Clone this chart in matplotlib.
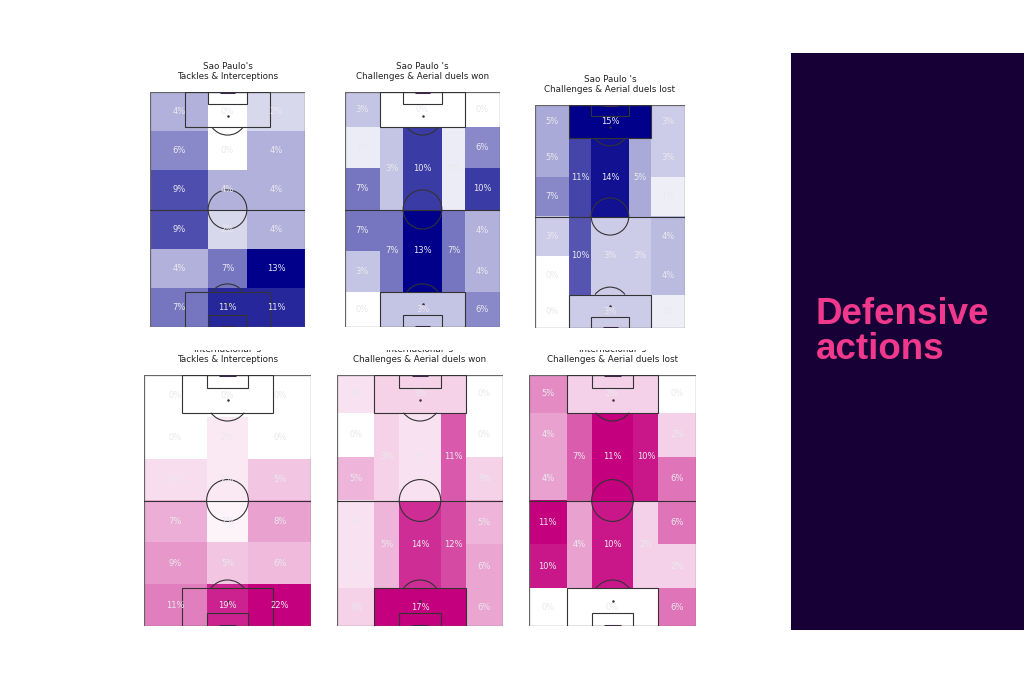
import matplotlib
matplotlib.use("Agg")
import matplotlib.pyplot as plt
from matplotlib.colors import LinearSegmentedColormap, Normalize
from matplotlib.patches import Rectangle, Arc, Circle

# vertical statsbomb pitch: x across 0-80, y along 0-120 (120 = top of picture)
LINE = "#333333"

# share of actions per zone, in percent
# 3 x 6 grid, rows top -> bottom, cols left -> right
sp_tackles = [[4, 0, 2], [6, 0, 4], [9, 4, 4], [9, 2, 4], [4, 7, 13], [7, 11, 11]]
int_tackles = [[0, 0, 0], [0, 2, 0], [3, 2, 5], [7, 1, 8], [9, 5, 6], [11, 19, 22]]

# positional zones, in this order:
# left wing x6 (top->bottom), left half-space (top, bottom), centre (top, bottom),
# right half-space (top, bottom), right wing x6, boxes (top, bottom)
sp_won = [3, 1, 7, 7, 3, 0, 3, 7, 10, 13, 1, 7, 0, 6, 10, 4, 4, 6, 0, 3]
sp_lost = [5, 5, 7, 3, 0, 0, 11, 10, 14, 3, 5, 3, 3, 3, 1, 4, 4, 1, 15, 3]
int_won = [2, 0, 5, 2, 2, 3, 3, 5, 2, 14, 11, 12, 0, 0, 3, 5, 6, 6, 3, 17]
int_lost = [5, 4, 4, 11, 10, 0, 7, 4, 11, 10, 10, 2, 0, 2, 6, 6, 2, 6, 2, 0]

titles = [
    "Sao Paulo's\nTackles & Interceptions",
    "Sao Paulo 's\nChallenges & Aerial duels won",
    "Sao Paulo 's\nChallenges & Aerial duels lost",
    "Internacional 's\nTackles & Interceptions",
    "Internacional 's\nChallenges & Aerial duels won",
    "Internacional 's\nChallenges & Aerial duels lost",
]

blue_cmap = LinearSegmentedColormap.from_list("sp", ["#ffffff", "#00008a"])
pink_cmap = LinearSegmentedColormap.from_list("int", ["#ffffff", "#c4007e"])


def grid_zones():
    ys = [120, 100, 80, 60, 40, 20, 0]
    xs = [0, 30, 50, 80]
    zones = []
    for r in range(6):
        for c in range(3):
            zones.append((xs[c], xs[c + 1], ys[r + 1], ys[r]))
    return zones


def positional_zones():
    wing = [120, 102, 81, 60, 39, 18, 0]
    zones = []
    for i in range(6):
        zones.append((0, 18, wing[i + 1], wing[i]))
    for x0, x1 in [(18, 30), (30, 50), (50, 62)]:
        zones.append((x0, x1, 60, 102))
        zones.append((x0, x1, 18, 60))
    for i in range(6):
        zones.append((62, 80, wing[i + 1], wing[i]))
    zones.append((18, 62, 102, 120))
    zones.append((18, 62, 0, 18))
    return zones


def draw_pitch(ax):
    kw = dict(fill=False, ec=LINE, lw=0.8, zorder=3)
    ax.add_patch(Rectangle((0, 0), 80, 120, ec="#666666", fill=False, lw=0.9, zorder=3))
    ax.plot([0, 80], [60, 60], color=LINE, lw=0.8, zorder=3)
    ax.add_patch(Circle((40, 60), 10, **kw))
    for y0, sgn in [(0, 1), (120, -1)]:
        ax.add_patch(Rectangle((18, y0 if sgn > 0 else y0 - 18), 44, 18, **kw))
        ax.add_patch(Rectangle((30, y0 if sgn > 0 else y0 - 6), 20, 6, **kw))
        spot = y0 + sgn * 12
        ax.plot([40], [spot], marker="o", ms=0.8, color=LINE, zorder=3)
        if sgn > 0:
            ax.add_patch(Arc((40, spot), 20, 20, theta1=37, theta2=143, ec=LINE, lw=0.8, zorder=3))
        else:
            ax.add_patch(Arc((40, spot), 20, 20, theta1=217, theta2=323, ec=LINE, lw=0.8, zorder=3))
        ax.plot([36, 44], [y0, y0], color="#3a2a45", lw=2.2, zorder=3, solid_capstyle="butt")
    ax.set_xlim(0, 80)
    ax.set_ylim(0, 120)
    ax.axis("off")


def draw_heat(ax, zones, values, cmap):
    norm = Normalize(0, max(values))
    for (x0, x1, y0, y1), v in zip(zones, values):
        ax.add_patch(Rectangle((x0, y0), x1 - x0, y1 - y0, fc=cmap(norm(v)), ec="none", zorder=1))
        ax.text((x0 + x1) / 2, (y0 + y1) / 2, f"{v}%", color="#e9e9ee", fontsize=6,
                ha="center", va="center", zorder=4)


# axes boxes in pixels (left, top, right, bottom)
boxes = [
    (150, 92, 305, 327), (345, 92, 500, 327), (535, 105, 685, 328),
    (144, 375, 311, 626), (337, 375, 503, 626), (529, 375, 696, 626),
]
W, H = 1024, 683
fig = plt.figure(figsize=(W / 100, H / 100), dpi=100)

charts = [
    (grid_zones(), [v for row in sp_tackles for v in row], blue_cmap),
    (positional_zones(), sp_won, blue_cmap),
    (positional_zones(), sp_lost, blue_cmap),
    (grid_zones(), [v for row in int_tackles for v in row], pink_cmap),
    (positional_zones(), int_won, pink_cmap),
    (positional_zones(), int_lost, pink_cmap),
]

for (l, t, r, b), (zones, vals, cmap), title in zip(boxes, charts, titles):
    ax = fig.add_axes([l / W, 1 - b / H, (r - l) / W, (b - t) / H])
    draw_heat(ax, zones, vals, cmap)
    draw_pitch(ax)
    ax.set_title(title, fontsize=6.3, pad=9.5, color="#222222", linespacing=1.15)

# the bottom row's first title line is hidden behind the upper pitches
fig.add_artist(Rectangle((0, 1 - 350 / H), 0.75, 20 / H, transform=fig.transFigure,
                         fc="white", ec="none", zorder=5))

# side panel
fig.add_artist(Rectangle((791 / W, 1 - 630 / H), (W - 791) / W, 577 / H,
                         transform=fig.transFigure, fc="#170036", ec="none", zorder=1))
fig.text(816 / W, 1 - 332 / H, "Defensive\nactions", color="#f0388c", fontsize=26.5,
         fontweight="bold", family="Liberation Sans", ha="left", va="center", linespacing=1.02)

fig.savefig("out.png", dpi=100)
